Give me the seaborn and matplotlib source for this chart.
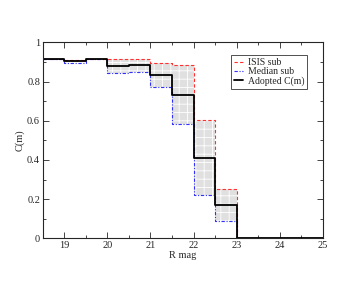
import numpy as np
import pandas as pd
import seaborn as sns
import matplotlib
matplotlib.use("Agg")
import matplotlib.pyplot as plt
from matplotlib.ticker import MultipleLocator

# bin edges (R mag) and completeness per 0.5 mag bin
edges = [18.5, 19.0, 19.5, 20.0, 20.5, 21.0, 21.5, 22.0, 22.5, 23.0]
isis = [0.913, 0.911, 0.913, 0.913, 0.913, 0.893, 0.884, 0.603, 0.250]
median = [0.913, 0.893, 0.913, 0.842, 0.850, 0.770, 0.582, 0.219, 0.088]
adopted = [0.913, 0.905, 0.913, 0.879, 0.884, 0.833, 0.731, 0.408, 0.168]

sns.set_style("ticks")
plt.rcParams['font.family'] = ['Liberation Serif', 'DejaVu Serif']
plt.rcParams['hatch.color'] = '#999999'
plt.rcParams['hatch.linewidth'] = 0.6

fig = plt.figure(figsize=(3.63, 2.81), dpi=100)
ax = fig.add_axes([0.118, 0.152, 0.771, 0.697])

x_step = edges + [25.0]
def ext(v):
    return list(v) + [0.0, 0.0]

ax.fill_between(edges, list(median) + [median[-1]], list(isis) + [isis[-1]],
                step='post', facecolor='#e0e0e0', edgecolor='none', hatch='++', linewidth=0)

df = pd.DataFrame({'x': x_step, 'isis': ext(isis), 'median': ext(median), 'adopted': ext(adopted)})
sns.lineplot(data=df, x='x', y='isis', ax=ax, drawstyle='steps-post', color='#ff3030',
             linestyle=(0, (3, 2)), linewidth=0.8, label='ISIS sub')
sns.lineplot(data=df, x='x', y='median', ax=ax, drawstyle='steps-post', color='#3030ff',
             linestyle=(0, (3, 1.5, 1, 1.5)), linewidth=0.8, label='Median sub')
sns.lineplot(data=df, x='x', y='adopted', ax=ax, drawstyle='steps-post', color='black',
             linewidth=1.3, label='Adopted C(m)')

ax.set_xlim(18.5, 25)
ax.set_ylim(0, 1)
ax.xaxis.set_major_locator(MultipleLocator(1))
ax.xaxis.set_minor_locator(MultipleLocator(0.5))
ax.yaxis.set_major_locator(MultipleLocator(0.2))
ax.yaxis.set_minor_locator(MultipleLocator(0.1))
ax.set_yticks([0, 0.2, 0.4, 0.6, 0.8, 1.0])
ax.set_yticklabels(['0', '0.2', '0.4', '0.6', '0.8', '1'])
ax.tick_params(which='both', direction='in', top=True, right=True, labelsize=7.5, width=0.6, pad=2)
ax.tick_params(which='major', length=4)
ax.tick_params(which='minor', length=2)
for s in ax.spines.values():
    s.set_linewidth(0.8)
ax.set_xlabel('R mag', fontsize=7.5, labelpad=1)
ax.set_ylabel('C(m)', fontsize=7.5, labelpad=2)

leg = ax.legend(loc='upper right', bbox_to_anchor=(0.944, 0.935), fontsize=7, frameon=True,
                fancybox=False, edgecolor='black', handlelength=0.9, borderpad=0.3,
                labelspacing=0.02, handletextpad=0.5, borderaxespad=0)
leg.get_frame().set_linewidth(0.6)

fig.savefig('out.png', dpi=100)
